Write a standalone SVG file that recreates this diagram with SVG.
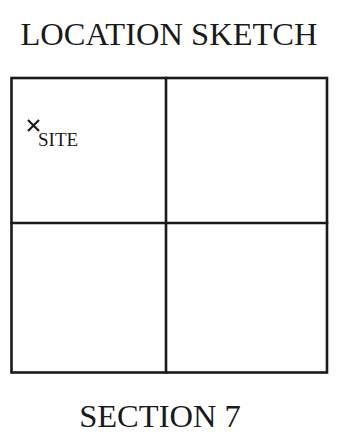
<svg xmlns="http://www.w3.org/2000/svg" width="339" height="442" viewBox="0 0 339 442">
<style>
.t{font-family:"Liberation Serif","Times New Roman",serif;fill:#1a1a1a}
.ln{stroke:#1a1a1a;fill:none;stroke-width:2.6;stroke-linecap:square}
</style>
<rect width="339" height="442" fill="#fff"/>
<g id="title"><text class="t" x="169" y="45" font-size="32.5" text-anchor="middle">LOCATION SKETCH</text></g>
<g id="grid">
<rect class="ln" x="11.5" y="78" width="315.5" height="294.5"/>
<line class="ln" x1="166" y1="78" x2="166" y2="372.5"/>
<line class="ln" x1="11.5" y1="223" x2="327" y2="223"/>
</g>
<g id="site">
<path d="M28,120 L39,131 M39,120 L28,131" stroke="#1a1a1a" stroke-width="2.2" fill="none"/>
<text class="t" x="38" y="146" font-size="19">SITE</text>
</g>
<g id="section"><text class="t" x="160" y="427" font-size="32.5" text-anchor="middle">SECTION 7</text></g>
</svg>
